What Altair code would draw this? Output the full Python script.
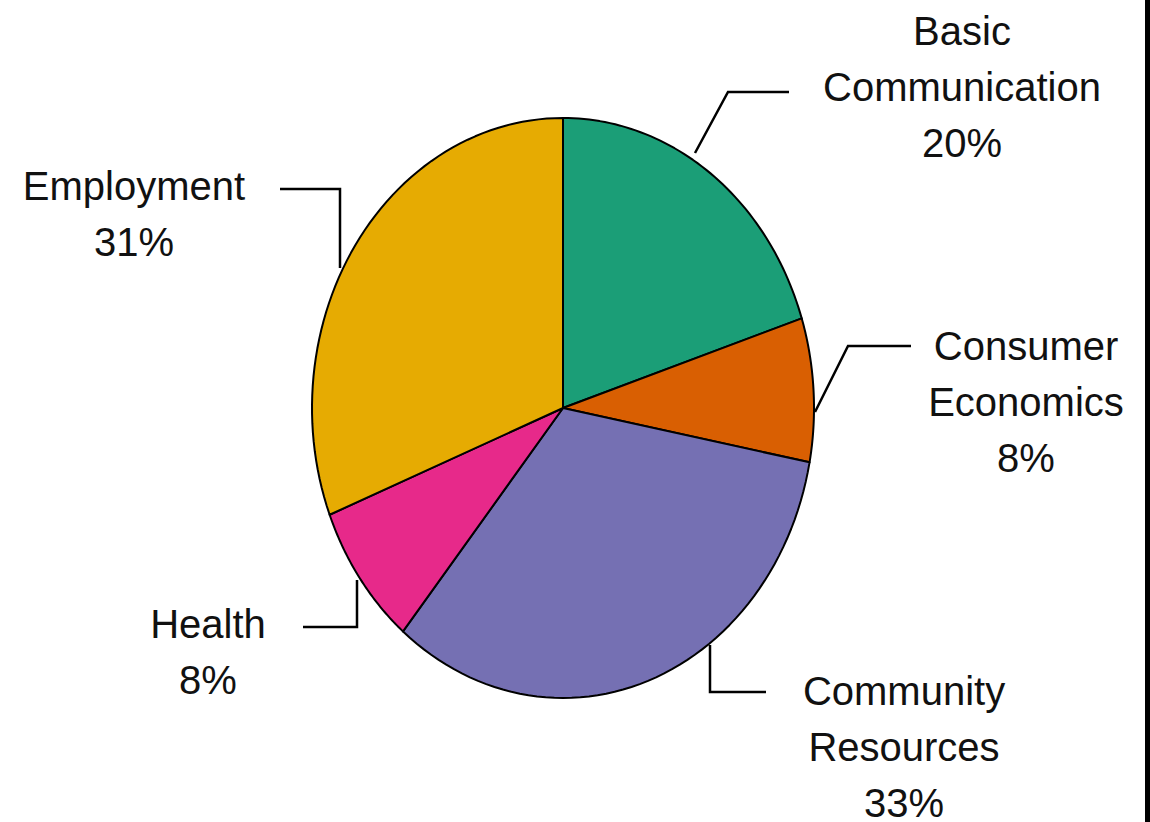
import altair as alt
import pandas as pd

# ---- data ----
categories = ["Basic Communication", "Consumer Economics", "Community Resources", "Health", "Employment"]
shares = [20, 8, 33, 8, 31]
label_lines = [["Basic", "Communication"], ["Consumer", "Economics"], ["Community", "Resources"], ["Health"], ["Employment"]]

# ---- styles / layout (pixels) ----
colors = ["#1b9e77", "#d95f02", "#7570b3", "#e7298a", "#e6ab02"]
W, H = 1150, 822
CX, CY, RX, RY = 563, 408, 251, 290
N = 60
FONT = "Liberation Sans"
label_anchor = [(962, 45), (1026, 360), (904, 705), (208, 638), (134, 200)]
leaders = [
    [(695, 153), (728, 92), (789, 92)],
    [(815, 412), (848, 346), (911, 346)],
    [(710, 645), (710, 692), (766, 692)],
    [(357, 580), (357, 627), (303, 627)],
    [(340, 268), (340, 189), (280, 189)],
]

pie_df = pd.DataFrame({"category": categories, "share": shares, "idx": list(range(len(categories)))})

xs = alt.Scale(domain=[-1, 1], range=[CX - RX, CX + RX])
ys = alt.Scale(domain=[-1, 1], range=[CY + RY, CY - RY])

pie = (
    alt.Chart(pie_df)
    .transform_window(cum="sum(share)", sort=[alt.SortField("idx")])
    .transform_calculate(start="datum.cum - datum.share", k=f"sequence(0, {N + 3})")
    .transform_flatten(["k"])
    .transform_calculate(
        a=f"2*PI*(datum.start + datum.share*clamp((datum.k-1)/{N},0,1))/100"
    )
    .transform_calculate(
        px=f"(datum.k==0 || datum.k=={N + 2}) ? 0 : sin(datum.a)",
        py=f"(datum.k==0 || datum.k=={N + 2}) ? 0 : cos(datum.a)",
    )
    .mark_line(filled=True, stroke="black", strokeWidth=2, strokeJoin="round", interpolate="linear")
    .encode(
        x=alt.X("px:Q", scale=xs, axis=None),
        y=alt.Y("py:Q", scale=ys, axis=None),
        color=alt.Color("category:N", scale=alt.Scale(domain=categories, range=colors), legend=None),
        order=alt.Order("k:Q"),
    )
)

pxs = alt.Scale(domain=[0, W], range=[0, W])
pys = alt.Scale(domain=[0, H], range=[0, H])

lead_rows = []
for i, pts in enumerate(leaders):
    for j, (x, y) in enumerate(pts):
        lead_rows.append({"seg": i, "o": j, "x": x, "y": y})
lead = (
    alt.Chart(pd.DataFrame(lead_rows))
    .mark_line(color="black", strokeWidth=2.5)
    .encode(
        x=alt.X("x:Q", scale=pxs, axis=None),
        y=alt.Y("y:Q", scale=pys, axis=None),
        detail="seg:N",
        order=alt.Order("o:Q"),
    )
)

lab_rows = []
for i, name in enumerate(categories):
    lab_rows.append({
        "text": "\n".join(label_lines[i] + [f"{shares[i]}%"]),
        "x": label_anchor[i][0],
        "y": label_anchor[i][1],
    })
labels = (
    alt.Chart(pd.DataFrame(lab_rows))
    .mark_text(font=FONT, fontSize=40, lineBreak="\n", lineHeight=56, align="center",
               baseline="alphabetic", color="#111111")
    .encode(
        x=alt.X("x:Q", scale=pxs, axis=None),
        y=alt.Y("y:Q", scale=pys, axis=None),
        text="text:N",
    )
)

edge = (
    alt.Chart(pd.DataFrame({"v": [0]}))
    .mark_rect(color="black")
    .encode(x=alt.value(1145), x2=alt.value(1150), y=alt.value(0), y2=alt.value(822))
)

chart = (
    alt.layer(pie, lead, labels, edge)
    .resolve_scale(x="independent", y="independent")
    .properties(width=W, height=H, padding=0, autosize=alt.AutoSizeParams(type="none"), background="white")
    .configure_view(stroke=None)
)

chart.save("out.html", embed_options={"renderer": "svg", "actions": False})
